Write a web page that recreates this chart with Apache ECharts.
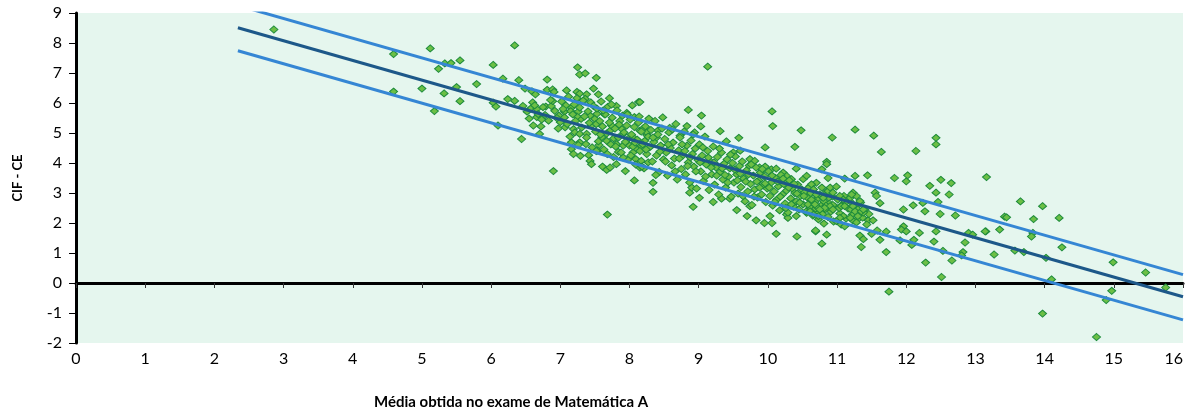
<!DOCTYPE html>
<html>
<head>
<meta charset="utf-8">
<script src="https://cdn.jsdelivr.net/npm/echarts@6/dist/echarts.min.js"></script>
<style>
  html, body { margin: 0; padding: 0; background: #ffffff; }
  #chart { width: 1186px; height: 416px; }
</style>
</head>
<body>
<div id="chart"></div>
<script>
// Axis ranges and tick labels
const xTicks = [0, 1, 2, 3, 4, 5, 6, 7, 8, 9, 10, 11, 12, 13, 14, 15, 16];
const yTicks = [-2, -1, 0, 1, 2, 3, 4, 5, 6, 7, 8, 9];

// Regression line and its band (start / end points)
const fitLine  = [[2.34, 8.51], [16, -0.46]];
const bandUpper = [[2.34, 9.25], [16, 0.28]];
const bandLower = [[2.34, 7.74], [16, -1.23]];

// Scattered schools away from the main cloud: [exam average, CIF - CE]
const sparsePoints = [
  [2.86, 8.45], [4.59, 7.63], [5.12, 7.82], [5.33, 7.32], [5.42, 7.33], [5.55, 7.42], [5.24, 7.14],
  [5.79, 6.63], [5.50, 6.53], [4.59, 6.38], [5.00, 6.48], [5.32, 6.32], [5.55, 6.06], [5.18, 5.73],
  [6.34, 7.92], [6.03, 7.27], [6.17, 6.81], [6.40, 6.76], [6.81, 6.78], [7.25, 7.19], [7.28, 6.95],
  [7.36, 6.99], [7.52, 6.84], [6.49, 6.48], [6.59, 6.39], [6.64, 6.29], [6.81, 6.44], [6.89, 6.45],
  [6.91, 6.37], [7.09, 6.42], [7.24, 6.37], [7.28, 6.31], [7.38, 6.29], [7.48, 6.48], [7.55, 6.29],
  [7.71, 6.16], [7.24, 6.16], [7.36, 6.14], [6.24, 6.13], [6.34, 6.07], [6.03, 6.01], [6.07, 5.88],
  [6.46, 5.90], [6.58, 5.83], [6.66, 5.80], [6.79, 5.88], [6.87, 5.90], [6.89, 6.06], [7.08, 5.92],
  [7.16, 5.84], [6.98, 5.58], [7.06, 5.71], [7.15, 5.73], [7.26, 5.71], [7.30, 5.47], [7.24, 5.55],
  [7.43, 5.58], [7.50, 5.47], [7.53, 5.64], [7.64, 5.62], [7.81, 5.90], [7.96, 5.67], [8.04, 5.92],
  [8.13, 6.03], [8.07, 5.53], [6.66, 5.53], [6.73, 5.45], [6.61, 5.25], [6.70, 4.97], [6.44, 4.80],
  [6.10, 5.25], [7.00, 5.36], [7.07, 5.19], [7.19, 5.13], [7.21, 5.02], [7.28, 4.97], [7.38, 4.97],
  [7.45, 5.25], [7.52, 5.30], [7.60, 4.86], [7.72, 5.08], [7.74, 5.25], [7.77, 4.82], [7.89, 5.13],
  [7.91, 4.97], [7.98, 4.80], [8.05, 4.86], [7.16, 4.69], [7.28, 4.69], [7.37, 4.63], [7.56, 4.60],
  [7.67, 4.74], [7.81, 4.63], [7.91, 4.58], [8.00, 4.58], [8.10, 4.46], [8.17, 4.58], [8.22, 4.74],
  [8.15, 5.08], [8.25, 4.93], [7.16, 4.46], [7.19, 4.30], [7.29, 4.24], [7.41, 4.26], [7.54, 4.41],
  [7.84, 4.37], [8.05, 4.35], [8.09, 4.13], [8.17, 4.07], [8.27, 4.02], [7.43, 4.07], [7.45, 3.96],
  [7.61, 3.88], [7.67, 3.77], [7.72, 3.85], [7.81, 3.96], [7.94, 3.73], [8.07, 3.42], [8.15, 3.85],
  [6.90, 3.73], [7.68, 2.28],
  [8.15, 6.03], [8.85, 5.77], [9.04, 5.58], [10.06, 5.72], [10.07, 5.23], [10.48, 5.09], [9.31, 5.06],
  [9.58, 4.84], [9.96, 4.52], [10.39, 4.54], [8.83, 5.23], [9.03, 5.22], [8.94, 5.02], [8.73, 4.91],
  [8.58, 5.17], [8.41, 5.08], [8.39, 4.85], [8.25, 5.02], [8.20, 5.16], [9.13, 7.21],
  [9.40, 4.72], [9.50, 4.35], [9.60, 4.41], [9.74, 4.13], [9.81, 4.07], [9.88, 3.85], [9.96, 3.88],
  [10.05, 3.79], [10.12, 3.81], [10.22, 3.68], [10.27, 3.57], [10.34, 3.46], [10.41, 3.81], [10.51, 3.46],
  [10.56, 3.57], [10.61, 3.23], [10.65, 3.12], [10.70, 3.34],
  [8.34, 3.34], [8.34, 3.04], [8.92, 2.54], [9.01, 2.84], [8.87, 3.01], [8.90, 3.18], [9.21, 2.70],
  [9.33, 2.81], [9.45, 2.81], [9.55, 2.43], [9.70, 2.23], [9.74, 2.56], [9.83, 2.09], [9.95, 2.00],
  [10.06, 2.00], [10.03, 2.23], [10.12, 1.64], [10.42, 1.55], [10.69, 1.72], [10.27, 2.28], [10.29, 2.17],
  [10.41, 2.23], [10.56, 2.34], [10.65, 2.39], [10.73, 2.34],
  [11.26, 5.11], [10.93, 4.85], [11.53, 4.91], [12.43, 4.84], [12.43, 4.62], [11.64, 4.37], [12.14, 4.40],
  [10.85, 4.04], [10.85, 3.96], [10.78, 3.79], [10.87, 3.50], [11.11, 3.48], [11.26, 3.57], [11.44, 3.59],
  [11.83, 3.50], [12.02, 3.59], [12.00, 3.39], [12.50, 3.44], [12.65, 3.33], [12.34, 3.24], [12.43, 3.01],
  [12.62, 2.95], [12.46, 2.70], [11.55, 3.01], [11.57, 2.90], [11.62, 2.66], [12.24, 2.67], [12.10, 2.59],
  [11.96, 2.45], [12.27, 2.39], [12.49, 2.30], [12.71, 2.25], [11.45, 2.09], [11.52, 2.09], [11.23, 2.08],
  [11.31, 2.15], [11.96, 1.89], [11.93, 1.78], [12.00, 1.72], [11.71, 1.71], [11.58, 1.75], [12.19, 1.67],
  [12.43, 1.72], [12.11, 1.44], [12.08, 1.27], [11.91, 1.42], [11.62, 1.44], [12.40, 1.38], [12.85, 1.35],
  [12.90, 1.67], [12.96, 1.61], [13.15, 1.72], [12.53, 1.07], [12.82, 1.03], [12.80, 0.92], [12.66, 0.75],
  [11.71, 1.03], [11.35, 1.20], [11.33, 1.58], [11.38, 1.46], [11.50, 1.64], [12.28, 0.68], [12.51, 0.20],
  [11.75, -0.29], [10.69, 1.75], [10.85, 1.61], [10.78, 1.31], [10.81, 1.98],
  [13.16, 3.53], [13.65, 2.72], [13.97, 2.56], [13.42, 2.21], [13.45, 2.19], [13.84, 2.13], [14.21, 2.17],
  [13.14, 1.72], [13.35, 1.78], [13.83, 1.67], [13.81, 1.55], [14.25, 1.19], [13.27, 0.95], [13.57, 1.08],
  [13.70, 1.03], [14.02, 0.84], [14.99, 0.69], [15.46, 0.35], [14.10, 0.12], [15.75, -0.15], [14.97, -0.26],
  [14.89, -0.57], [13.97, -1.02], [14.75, -1.80]
];

// Dense cloud of schools around the fitted line
const densePoints = [
  [6.52, 5.71], [6.55, 5.48], [6.60, 6.02], [6.63, 5.92], [6.68, 5.63], [6.72, 5.22], [6.75, 5.86],
  [6.78, 5.60], [6.83, 5.41], [6.86, 6.10], [6.92, 5.74], [6.95, 5.50], [6.97, 5.15],
  [7.02, 6.05], [7.04, 5.80], [7.06, 5.52], [7.10, 5.30], [7.12, 6.21], [7.14, 4.88], [7.18, 5.62],
  [7.20, 5.95], [7.22, 5.40], [7.26, 4.60], [7.28, 5.85], [7.31, 5.18], [7.33, 6.08], [7.35, 5.55],
  [7.38, 4.85], [7.40, 5.72], [7.42, 5.34], [7.44, 6.02], [7.46, 4.52], [7.48, 5.90],
  [7.51, 5.05], [7.53, 5.81], [7.55, 4.72], [7.57, 5.40], [7.59, 6.05], [7.61, 5.22], [7.63, 4.45],
  [7.65, 5.62], [7.67, 4.98], [7.69, 5.88], [7.71, 5.35], [7.73, 4.62], [7.75, 5.51], [7.77, 4.20],
  [7.79, 5.15], [7.82, 5.75], [7.84, 4.85], [7.86, 5.40], [7.88, 4.35], [7.90, 5.58], [7.92, 5.02],
  [7.94, 4.70], [7.96, 5.25], [7.98, 4.12],
  [8.01, 5.45], [8.03, 4.95], [8.05, 4.55], [8.07, 5.20], [8.09, 3.95], [8.11, 4.78], [8.13, 5.35],
  [8.15, 4.40], [8.17, 5.05], [8.19, 4.62], [8.21, 3.82], [8.23, 5.22], [8.25, 4.30], [8.27, 4.88],
  [8.29, 4.52], [8.31, 5.10], [8.33, 4.05], [8.35, 4.70], [8.37, 5.40], [8.39, 4.25], [8.41, 4.95],
  [8.43, 3.70], [8.45, 4.58], [8.47, 5.15], [8.49, 4.12],
  [8.51, 4.80], [8.53, 4.35], [8.55, 3.58], [8.57, 5.02], [8.59, 4.50], [8.61, 3.92], [8.63, 4.68],
  [8.65, 4.15], [8.67, 5.30], [8.69, 3.45], [8.71, 4.42], [8.73, 4.85], [8.75, 3.80], [8.77, 4.25],
  [8.79, 5.05], [8.81, 3.62], [8.83, 4.58], [8.85, 4.02], [8.87, 3.35], [8.89, 4.75], [8.91, 4.30],
  [8.93, 3.88], [8.95, 4.48], [8.97, 3.15], [8.99, 4.10],
  [9.01, 4.62], [9.03, 3.72], [9.05, 4.25], [9.07, 3.40], [9.09, 4.88], [9.11, 3.95], [9.13, 4.40],
  [9.15, 3.10], [9.17, 4.05], [9.19, 3.62], [9.21, 4.55], [9.23, 3.28], [9.25, 3.85], [9.27, 4.20],
  [9.29, 2.95], [9.31, 3.70], [9.33, 4.35], [9.35, 3.45], [9.37, 3.98], [9.39, 3.18], [9.41, 4.12],
  [9.43, 3.55], [9.45, 3.82], [9.47, 2.88], [9.49, 4.00],
  [9.51, 3.35], [9.53, 4.22], [9.55, 3.62], [9.57, 2.98], [9.59, 3.90], [9.61, 3.20], [9.63, 4.05],
  [9.65, 3.48], [9.67, 2.72], [9.69, 3.75], [9.71, 3.05], [9.73, 3.92], [9.75, 3.30], [9.77, 2.60],
  [9.79, 3.58], [9.81, 3.12], [9.83, 3.85], [9.85, 2.85], [9.87, 3.42], [9.89, 3.68], [9.91, 2.95],
  [9.93, 3.25], [9.95, 3.55], [9.97, 2.70], [9.99, 3.15],
  [10.01, 3.72], [10.03, 2.90], [10.05, 3.35], [10.07, 2.58], [10.09, 3.05], [10.11, 3.50], [10.13, 2.78],
  [10.15, 3.22], [10.17, 2.42], [10.19, 3.60], [10.21, 2.95], [10.23, 3.30], [10.25, 2.65], [10.27, 3.08],
  [10.29, 2.35], [10.31, 3.42], [10.33, 2.82], [10.35, 3.15], [10.37, 2.55], [10.39, 3.00], [10.41, 2.72],
  [10.43, 3.28], [10.45, 2.45], [10.47, 2.90], [10.49, 3.12],
  [10.51, 2.62], [10.53, 3.02], [10.55, 2.38], [10.57, 2.85], [10.59, 3.18], [10.61, 2.52], [10.63, 2.75],
  [10.65, 2.25], [10.67, 3.00], [10.69, 2.48], [10.71, 2.80], [10.73, 2.12], [10.75, 2.95], [10.77, 2.58],
  [10.79, 2.30], [10.81, 2.72], [10.83, 2.45], [10.85, 3.05], [10.87, 2.20], [10.89, 2.65], [10.91, 2.38],
  [10.93, 2.88], [10.95, 2.05], [10.97, 2.55],
  [11.01, 2.78], [11.04, 2.32], [11.07, 2.60], [11.10, 2.90], [11.13, 2.15], [11.16, 2.48], [11.19, 2.72],
  [11.22, 2.28], [11.25, 2.55], [11.28, 2.02], [11.31, 2.40], [11.34, 2.68], [11.37, 2.18], [11.40, 2.45],
  [11.43, 1.95], [11.46, 2.30],
  [7.52, 4.40], [7.58, 4.95], [7.62, 5.75], [7.68, 4.30], [7.74, 5.95], [7.80, 4.55], [7.85, 5.28],
  [7.91, 4.18], [7.97, 5.62], [8.02, 4.25], [8.08, 4.68], [8.14, 5.55], [8.18, 3.88], [8.24, 4.45],
  [8.28, 5.48], [8.34, 4.85], [8.38, 3.60], [8.44, 4.38], [8.48, 5.52], [8.52, 4.05], [8.56, 4.62],
  [8.62, 5.12], [8.66, 3.72], [8.72, 4.15], [8.76, 4.62], [8.80, 4.40], [8.84, 3.90], [8.88, 4.18],
  [8.92, 4.95], [8.96, 3.72], [9.02, 4.02], [9.06, 4.52], [9.10, 3.55], [9.14, 4.18], [9.18, 3.85],
  [9.22, 4.02], [9.26, 3.58], [9.30, 4.48], [9.34, 3.82], [9.38, 3.60], [9.42, 3.35], [9.46, 4.28],
  [9.52, 3.78], [9.56, 3.42], [9.60, 3.65], [9.64, 2.90], [9.68, 3.38], [9.72, 3.62], [9.76, 3.95],
  [9.80, 2.88], [9.84, 3.38], [9.88, 3.18], [9.92, 3.80], [9.96, 3.32], [10.02, 3.18], [10.06, 3.58],
  [10.10, 2.70], [10.14, 3.38], [10.18, 2.88], [10.22, 3.48], [10.26, 2.50], [10.30, 3.18], [10.34, 2.62],
  [10.38, 3.30], [10.42, 2.98], [10.46, 2.68], [10.52, 2.90], [10.58, 2.62], [10.62, 3.00], [10.68, 2.70],
  [10.72, 2.52], [10.78, 2.90], [10.84, 2.58], [10.88, 2.85], [10.94, 2.60], [11.03, 2.50], [11.12, 2.68],
  [11.20, 2.45], [11.30, 2.60], [11.38, 2.35],
  [10.63, 3.29], [10.66, 3.12], [10.70, 2.95], [10.78, 3.18], [10.80, 2.84], [10.87, 3.06], [10.90, 3.18],
  [10.94, 3.01], [10.99, 3.21], [11.04, 2.90], [11.06, 2.56], [11.11, 2.56], [11.09, 2.78], [11.19, 2.84],
  [11.23, 3.01], [11.28, 2.90], [11.33, 2.73], [11.30, 2.45], [11.26, 2.39], [11.35, 2.39], [11.19, 2.17],
  [11.09, 2.23], [11.04, 2.17], [10.99, 2.06], [11.06, 1.95], [11.11, 1.89], [10.90, 2.56], [10.82, 2.50],
  [10.75, 2.45], [10.68, 2.62], [10.63, 2.78], [10.61, 2.39], [10.66, 2.28], [10.73, 2.23], [10.94, 2.45],
  [11.30, 2.23], [11.38, 2.45], [11.23, 2.56], [11.21, 2.95]
];

const FONT = 'Lato, "Open Sans", sans-serif';

const chart = echarts.init(document.getElementById('chart'), null, { renderer: 'canvas' });

const option = {
  animation: false,
  backgroundColor: '#ffffff',
  title: {
    text: 'Média obtida no exame de Matemática A',
    left: 369,
    top: 390,
    textStyle: { fontFamily: FONT, fontSize: 15, fontWeight: 'bold', color: '#000' }
  },
  grid: {
    left: 76, right: 3, top: 13, bottom: 73,
    show: true, backgroundColor: '#e5f6ee', borderWidth: 0
  },
  xAxis: [
    {
      type: 'value',
      min: xTicks[0], max: xTicks[xTicks.length - 1], interval: 1,
      position: 'bottom',
      axisLine: { show: false, onZero: false },
      axisTick: { show: false },
      splitLine: { show: false },
      axisLabel: {
        margin: 8, color: '#000', fontFamily: FONT, fontSize: 16,
        alignMaxLabel: 'right'
      }
    },
    {
      type: 'value',
      min: xTicks[0], max: xTicks[xTicks.length - 1], interval: 1,
      position: 'bottom',
      axisLine: { show: true, onZero: true, lineStyle: { color: '#000', width: 3 } },
      axisTick: { show: true, length: 5, lineStyle: { color: '#333', width: 1 } },
      axisLabel: { show: false },
      splitLine: { show: false }
    }
  ],
  yAxis: {
    type: 'value',
    min: yTicks[0], max: yTicks[yTicks.length - 1], interval: 1,
    name: 'CIF - CE',
    nameLocation: 'middle',
    nameRotate: 90,
    nameGap: 52,
    nameTextStyle: { fontFamily: FONT, fontSize: 13, fontWeight: 'bold', color: '#000' },
    axisLine: { show: true, onZero: false, lineStyle: { color: '#000', width: 3 } },
    axisTick: { show: true, length: 7, lineStyle: { color: '#000', width: 1 } },
    splitLine: { show: false },
    axisLabel: { margin: 14, color: '#000', fontFamily: FONT, fontSize: 16 }
  },
  series: [
    {
      type: 'scatter',
      xAxisIndex: 0,
      data: sparsePoints.concat(densePoints),
      symbol: 'diamond',
      symbolSize: [8, 7],
      itemStyle: { color: '#6cbf45', borderColor: '#1e8c3c', borderWidth: 1, opacity: 1 },
      z: 2
    },
    {
      type: 'line', xAxisIndex: 0, data: bandUpper, showSymbol: false, symbol: 'none',
      lineStyle: { color: '#3586d4', width: 3 }, z: 3
    },
    {
      type: 'line', xAxisIndex: 0, data: bandLower, showSymbol: false, symbol: 'none',
      lineStyle: { color: '#3586d4', width: 3 }, z: 3
    },
    {
      type: 'line', xAxisIndex: 0, data: fitLine, showSymbol: false, symbol: 'none',
      lineStyle: { color: '#1d5889', width: 3 }, z: 4
    }
  ]
};

chart.setOption(option);
</script>
</body>
</html>
